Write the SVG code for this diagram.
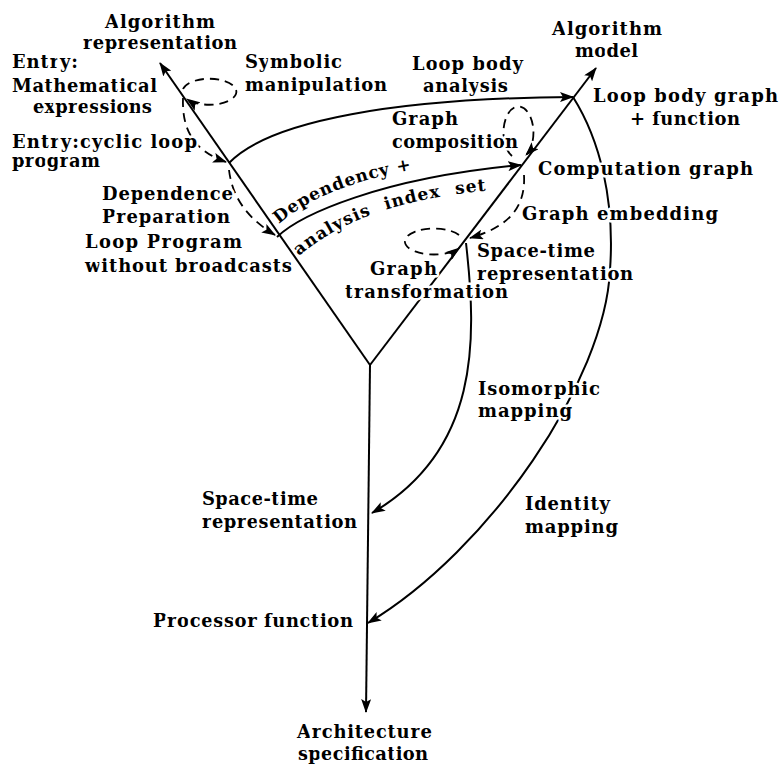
<svg xmlns="http://www.w3.org/2000/svg" width="782" height="764" viewBox="0 0 782 764">
  <style>
    .ln { fill: none; stroke: #000; stroke-width: 2; }
    .dl { fill: none; stroke: #000; stroke-width: 1.8; stroke-dasharray: 9 6; }
    .lbl { font-family: "DejaVu Serif", "Liberation Serif", serif; font-weight: bold; font-size: 18px; fill: #000;
           stroke: #fff; stroke-width: 5; stroke-linejoin: round; paint-order: stroke; }
    .onpath { font-family: "DejaVu Serif", "Liberation Serif", serif; font-weight: bold; font-size: 17px; fill: #000; }
  </style>
  <defs>
    <marker id="ah" viewBox="0 0 14 10" refX="13" refY="5" markerWidth="14" markerHeight="10" markerUnits="userSpaceOnUse" orient="auto">
      <path d="M0,0 L14,5 L0,10 L3,5 z" fill="#000"/>
    </marker>
    <path id="depPath" d="M279,224 C 305,201 350,179 428,167"/>
    <path id="anaPath" d="M299,256 C 328,231 384,198 496,190"/>
  </defs>
  <rect width="782" height="764" fill="#fff"/>

  <g id="connectors">
    <!-- main Y-shaped axes -->
    <path class="ln" d="M370,365 L160,63" marker-end="url(#ah)"/>
    <path class="ln" d="M370,365 L596,68" marker-end="url(#ah)"/>
    <path class="ln" d="M370,365 L366,712" marker-end="url(#ah)"/>
    <!-- loop body analysis -->
    <path class="ln" d="M229,163 C 270,120 400,98 573,97" marker-end="url(#ah)"/>
    <!-- dependency + index set analysis -->
    <path class="ln" d="M277,237 C 300,215 380,178 521,165" marker-end="url(#ah)"/>
    <!-- isomorphic mapping -->
    <path class="ln" d="M466,243 C 477,340 480,450 372,513" marker-end="url(#ah)"/>
    <!-- identity mapping -->
    <path class="ln" d="M573,97 C 600,140 615,200 610,270 C 605,380 490,550 368,623" marker-end="url(#ah)"/>
    <!-- dashed transitions -->
    <path class="dl" d="M183,98 C 182,128 192,150 226,162" marker-end="url(#ah)"/>
    <path class="dl" d="M229,170 C 232,195 245,217 275,235" marker-end="url(#ah)"/>
    <path class="dl" d="M524,175 C 526,210 505,228 470,238" marker-end="url(#ah)"/>
    <!-- self loops -->
    <path class="dl" d="M183,89 A27,13 0 1 1 187,99" marker-end="url(#ah)"/>
    <path class="dl" d="M512,156 A15,26 0 1 1 526,155" marker-end="url(#ah)"/>
    <path class="dl" d="M459,235 A29,13 0 1 0 459,248" marker-end="url(#ah)"/>
  </g>

  <g id="n-alg-rep">
    <text class="lbl" x="105" y="28" textLength="110">Algorithm</text>
    <text class="lbl" x="83" y="49" textLength="154">representation</text>
  </g>
  <g id="n-entry-math">
    <text class="lbl" x="12" y="68" textLength="66">Entry:</text>
    <text class="lbl" x="12" y="92" textLength="145">Mathematical</text>
    <text class="lbl" x="33" y="113" textLength="119">expressions</text>
  </g>
  <g id="n-entry-loop">
    <text class="lbl" x="12" y="148" textLength="185">Entry:cyclic loop</text>
    <text class="lbl" x="12" y="167" textLength="88">program</text>
  </g>
  <g id="e-symbolic">
    <text class="lbl" x="245" y="68" textLength="97">Symbolic</text>
    <text class="lbl" x="245" y="91" textLength="142">manipulation</text>
  </g>
  <g id="e-loop-body-analysis">
    <text class="lbl" x="412" y="70" textLength="111">Loop body</text>
    <text class="lbl" x="423" y="92" textLength="85">analysis</text>
  </g>
  <g id="n-alg-model">
    <text class="lbl" x="552" y="35" textLength="110">Algorithm</text>
    <text class="lbl" x="575" y="57" textLength="63">model</text>
  </g>
  <g id="n-loop-body-graph">
    <text class="lbl" x="593" y="102" textLength="185">Loop body graph</text>
    <text class="lbl" x="630" y="125" textLength="110">+ function</text>
  </g>
  <g id="n-computation-graph">
    <text class="lbl" x="538" y="175" textLength="215">Computation graph</text>
  </g>
  <g id="e-graph-composition">
    <text class="lbl" x="392" y="125" textLength="66">Graph</text>
    <text class="lbl" x="392" y="148" textLength="126">composition</text>
  </g>
  <g id="e-dependence-prep">
    <text class="lbl" x="102" y="200" textLength="131">Dependence</text>
    <text class="lbl" x="102" y="223" textLength="128">Preparation</text>
  </g>
  <g id="n-loop-program">
    <text class="lbl" x="85" y="248" textLength="157">Loop Program</text>
    <text class="lbl" x="85" y="272" textLength="207">without broadcasts</text>
  </g>
  <g id="e-dependency">
    <text class="onpath" letter-spacing="0.8"><textPath href="#depPath">Dependency +</textPath></text>
    <text class="onpath" letter-spacing="1" word-spacing="8"><textPath href="#anaPath">analysis index set</textPath></text>
  </g>
  <g id="e-graph-embedding">
    <text class="lbl" x="522" y="220" textLength="196">Graph embedding</text>
  </g>
  <g id="n-space-time-upper">
    <text class="lbl" x="477" y="257" textLength="118">Space-time</text>
    <text class="lbl" x="477" y="280" textLength="156">representation</text>
  </g>
  <g id="e-graph-transformation">
    <text class="lbl" x="370" y="275" textLength="67">Graph</text>
    <text class="lbl" x="345" y="298" textLength="163">transformation</text>
  </g>
  <g id="e-isomorphic">
    <text class="lbl" x="478" y="395" textLength="122">Isomorphic</text>
    <text class="lbl" x="478" y="417" textLength="94">mapping</text>
  </g>
  <g id="e-identity">
    <text class="lbl" x="525" y="510" textLength="85">Identity</text>
    <text class="lbl" x="525" y="533" textLength="93">mapping</text>
  </g>
  <g id="n-space-time-lower">
    <text class="lbl" x="202" y="505" textLength="116">Space-time</text>
    <text class="lbl" x="202" y="528" textLength="155">representation</text>
  </g>
  <g id="n-processor-function">
    <text class="lbl" x="153" y="627" textLength="200">Processor function</text>
  </g>
  <g id="n-architecture">
    <text class="lbl" x="297" y="738" textLength="135">Architecture</text>
    <text class="lbl" x="298" y="760" textLength="130">specification</text>
  </g>
</svg>
